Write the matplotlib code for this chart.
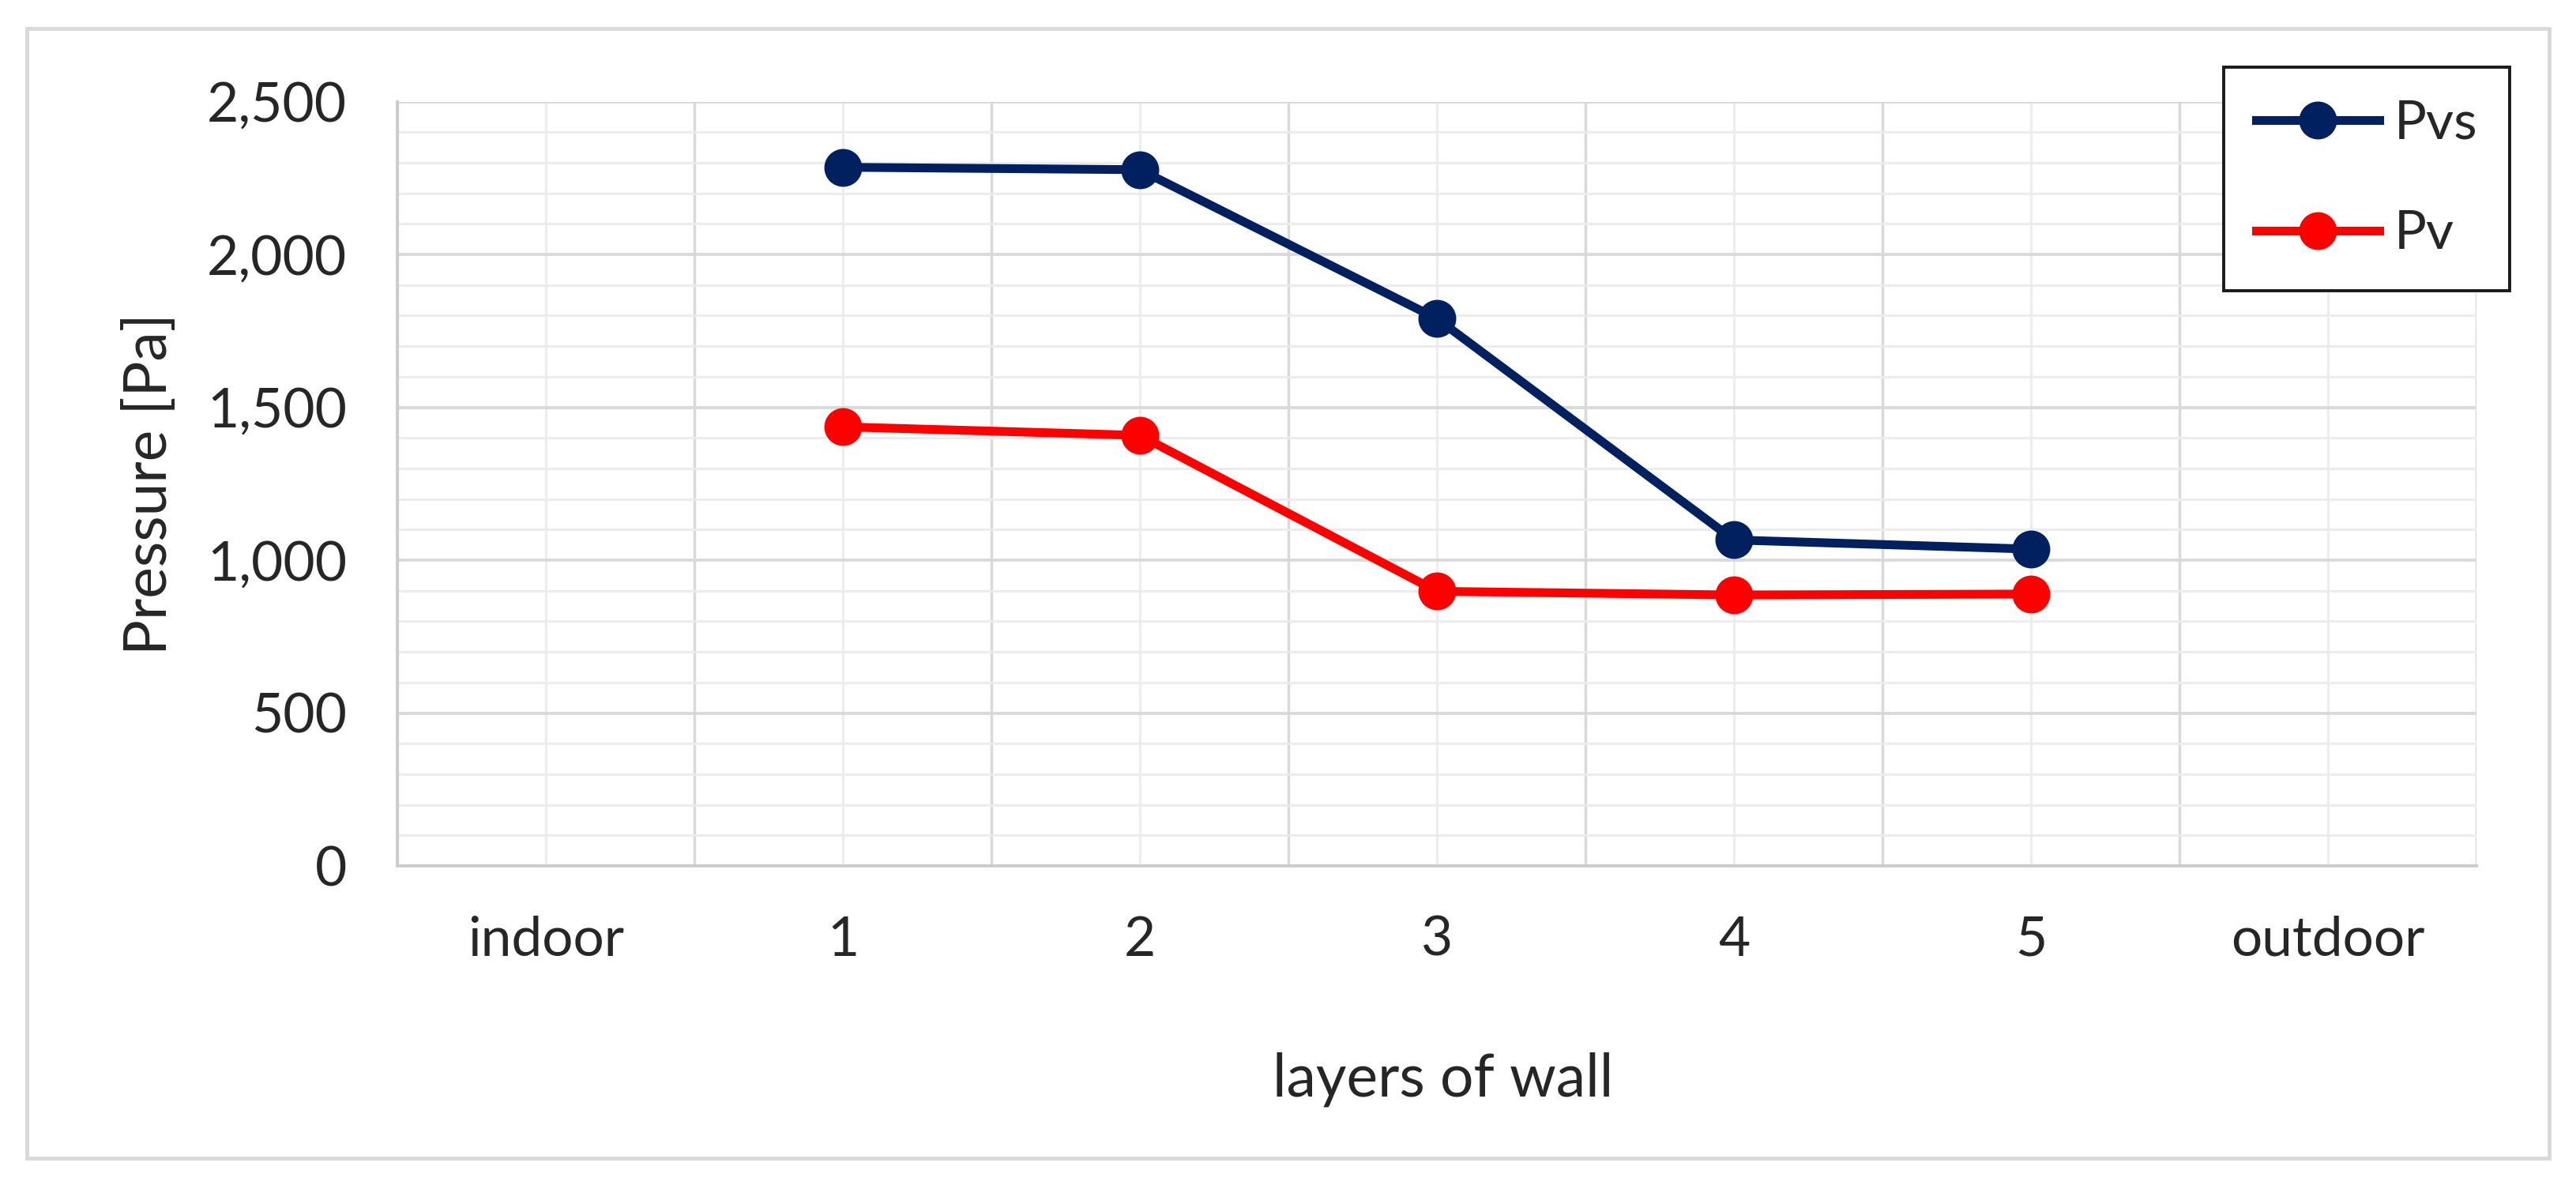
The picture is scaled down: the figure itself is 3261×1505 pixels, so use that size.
import numpy as np
import matplotlib
matplotlib.use("Agg")
import matplotlib.pyplot as plt
from matplotlib.ticker import MultipleLocator, FuncFormatter
from matplotlib.patches import Rectangle

# ---- data ----
categories = ["indoor", "1", "2", "3", "4", "5", "outdoor"]
pvs = [np.nan, 2285, 2277, 1790, 1066, 1036, np.nan]
pv = [np.nan, 1436, 1408, 898, 886, 889, np.nan]
series_names = ["Pvs", "Pv"]
y_ticks = [0, 500, 1000, 1500, 2000, 2500]

plt.rcParams['font.family'] = ['Lato', 'DejaVu Sans']

W, H = 3262, 1505
fig = plt.figure(figsize=(W / 100, H / 100), dpi=100)
fig.patch.set_facecolor("white")

# outer chart border
fig.patches.append(Rectangle((34 / W, 1 - 1466 / H), (3227 - 34) / W, (1466 - 36) / H,
                             transform=fig.transFigure, fill=False,
                             edgecolor="#d9d9d9", linewidth=3.5, zorder=0))

ax = fig.add_axes([503 / W, 1 - 1096 / H, (3135 - 503) / W, (1096 - 128.5) / H])

x = np.arange(len(categories))
ax.plot(x, pvs, color="#002060", lw=8, marker="o", ms=33.5, mew=1,
        label=series_names[0], zorder=3)
ax.plot(x, pv, color="#ff0000", lw=8, marker="o", ms=33.5, mew=1,
        label=series_names[1], zorder=3)

ax.set_xlim(-0.5, len(categories) - 0.5)
ax.set_ylim(0, 2500)
ax.set_xticks(x)
ax.set_xticklabels(categories)
ax.set_xticks(np.arange(-0.5, len(categories), 1.0), minor=True)
ax.set_yticks(y_ticks)
ax.yaxis.set_minor_locator(MultipleLocator(100))
ax.yaxis.set_major_formatter(FuncFormatter(lambda v, p: f"{int(v):,}"))

ax.grid(which="minor", axis="x", color="#d9d9d9", lw=2.4, zorder=0)
ax.grid(which="major", axis="x", color="#ececec", lw=2.2, zorder=0)
ax.grid(which="major", axis="y", color="#d9d9d9", lw=2.8, zorder=0)
ax.grid(which="minor", axis="y", color="#ececec", lw=2.2, zorder=0)
ax.set_axisbelow(True)

for s in ["top", "right"]:
    ax.spines[s].set_visible(False)
for s in ["left", "bottom"]:
    ax.spines[s].set_color("#cccccc")
    ax.spines[s].set_linewidth(2.8)

ax.tick_params(which="both", length=0)
ax.tick_params(axis="x", pad=45, labelsize=50, labelcolor="#262626")
ax.tick_params(axis="y", pad=46, labelsize=50, labelcolor="#262626")

ax.set_xlabel("layers of wall", fontsize=54, color="#262626")
ax.xaxis.set_label_coords(0.503, -0.243)
ax.set_ylabel("Pressure [Pa]", fontsize=54, color="#262626")
ax.yaxis.set_label_coords(-0.106, 0.5)

leg = ax.legend(loc="upper right", bbox_to_anchor=(3177 / W, 1 - 85 / H),
                bbox_transform=fig.transFigure, fontsize=49, frameon=True,
                fancybox=False, framealpha=1, edgecolor="#1a1a1a",
                handlelength=2.3, handletextpad=0.27, labelspacing=1.14,
                borderpad=0.6, borderaxespad=0)
leg.get_frame().set_linewidth(2.8)
for t in leg.get_texts():
    t.set_color("#262626")

fig.savefig("out.png", dpi=100, facecolor="white")
